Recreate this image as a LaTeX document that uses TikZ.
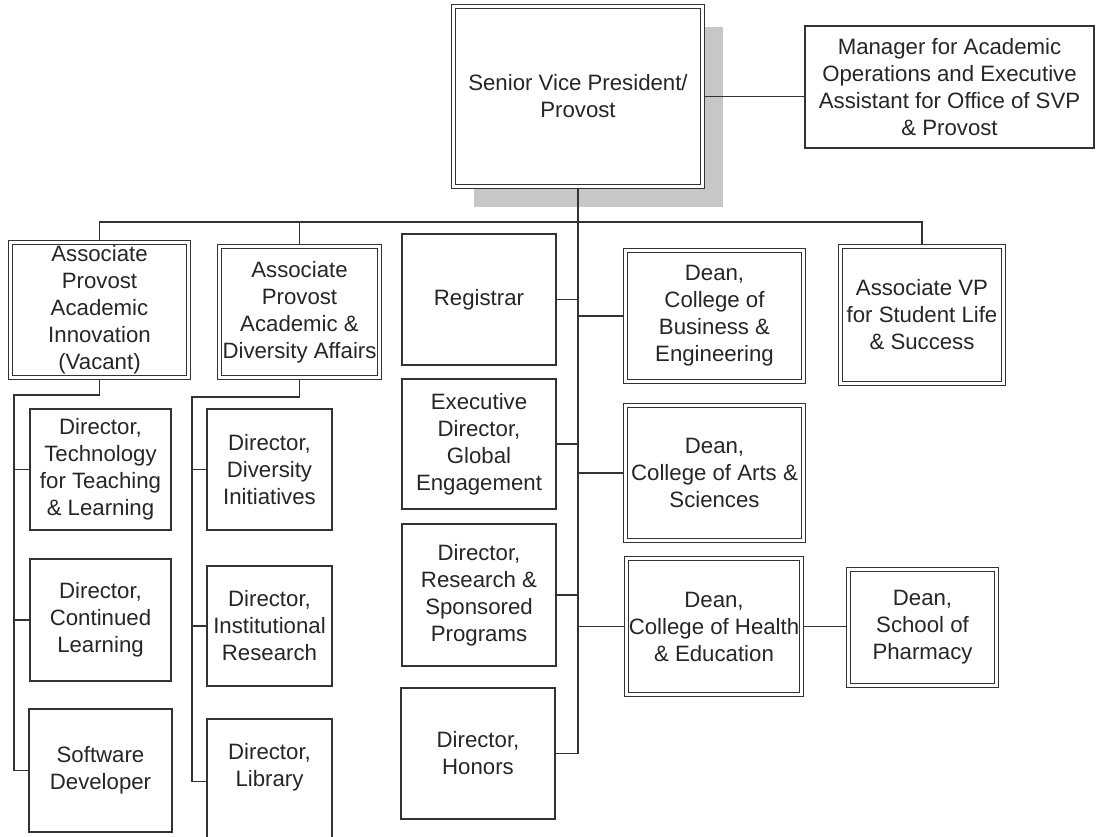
\documentclass[tikz,border=0pt]{standalone}
\usepackage{fontspec}
\setmainfont{Liberation Sans}
\usetikzlibrary{shadows}
\begin{document}
\begin{tikzpicture}[x=0.025cm, y=-0.025cm, line width=0.8pt, draw=black!80,
	box/.style = {draw=black!80, fill=white, text=black!85, inner sep=0pt, align=center,
		font=\fontsize{15.8}{19.2}\selectfont},
	dbl/.style = {box, double=white, double distance=1.9pt, outer sep=1.75pt},
	sz/.style 2 args = {minimum width=#1*0.025cm, minimum height=#2*0.025cm}]

	\useasboundingbox[fill=white] (0,0) rectangle (1098,836);

	\node[dbl, sz={249}{180}, general shadow={fill=black!22, shadow xshift=0.5cm, shadow yshift=-0.5cm}] (svp) at (578,96.5) {Senior Vice President/\\Provost};
	\node[box, sz={289}{122}] (mgr) at (949.5,87) {Manager for Academic\\Operations and Executive\\Assistant for Office of SVP\\\& Provost};

	\node[dbl, sz={178}{135}] (ap1) at (99.5,310) {Associate\\Provost\\Academic\\Innovation\\(Vacant)};
	\node[dbl, sz={160}{131}] (ap2) at (299.5,312) {Associate\\Provost\\Academic \&\\Diversity Affairs};
	\node[box, sz={154}{131}] (reg) at (479,299.5) {Registrar};
	\node[box, sz={154}{130}] (gle) at (479,444) {Executive\\Director,\\Global\\Engagement};
	\node[box, sz={154}{142}] (rsp) at (479,595) {Director,\\Research \&\\Sponsored\\Programs};
	\node[box, sz={154}{131}] (hon) at (478,753.5) {Director,\\Honors};
	\node[dbl, sz={178}{131}] (cbe) at (714.5,316) {Dean,\\College of\\Business \&\\Engineering};
	\node[dbl, sz={178}{135}] (cas) at (714.5,473) {Dean,\\College of Arts \&\\Sciences};
	\node[dbl, sz={175}{136}] (che) at (714,626.5) {Dean,\\College of Health\\\& Education};
	\node[dbl, sz={163}{137}] (avp) at (922,315) {Associate VP\\for Student Life\\\& Success};
	\node[dbl, sz={148}{116}] (pha) at (922.5,627.5) {Dean,\\School of\\Pharmacy};

	\node[box, sz={141}{121}] (ttl) at (100.5,469.5) {Director,\\Technology\\for Teaching\\\& Learning};
	\node[box, sz={141}{122}] (cnt) at (100.5,620) {Director,\\Continued\\Learning};
	\node[box, sz={143}{123}] (swd) at (100.5,770.5) {Software\\Developer};
	\node[box, sz={125}{121}] (div) at (269.5,469.5) {Director,\\Diversity\\Initiatives};
	\node[box, sz={125}{120}] (inr) at (269.5,626) {Director,\\Institutional\\Research};
	\node[box, sz={125}{125}, text depth=24pt] (lib) at (269.5,781.5) {Director,\\Library};

	\coordinate (bus) at (0,222);
	\coordinate (t1) at (14,395);
	\coordinate (t2) at (192,397);

	\draw (svp.east) -- (svp.east -| mgr.west);
	\draw (ap1.north) |- (bus -| avp.north) -- (avp.north);
	\draw (ap2.north) -- (ap2.north |- bus);
	\draw (svp.south) |- (hon.east);
	\draw (reg.east) -- (reg.east -| svp.south);
	\draw (gle.east) -- (gle.east -| svp.south);
	\draw (rsp.east) -- (rsp.east -| svp.south);
	\draw (cbe.west) -- (cbe.west -| svp.south);
	\draw (cas.west) -- (cas.west -| svp.south);
	\draw (che.west) -- (che.west -| svp.south);
	\draw (che.east) -- (che.east -| pha.west);

	\draw (ap1.south) |- (t1) |- (swd.west);
	\draw (t1 |- ttl.west) -- (ttl.west);
	\draw (t1 |- cnt.west) -- (cnt.west);
	\draw (ap2.south) |- (t2) |- (lib.west);
	\draw (t2 |- div.west) -- (div.west);
	\draw (t2 |- inr.west) -- (inr.west);
\end{tikzpicture}
\end{document}
